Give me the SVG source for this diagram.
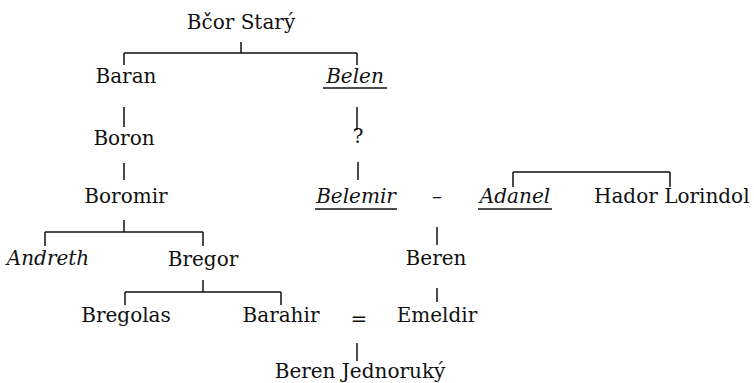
<svg xmlns="http://www.w3.org/2000/svg" width="754" height="383" viewBox="0 0 754 383">
<style>
text{font-family:"DejaVu Serif","Liberation Serif",serif;font-size:20px;fill:#111;text-anchor:middle}
.it{font-style:italic}
.ul{stroke:#111;stroke-width:1.3}
#connectors path{stroke:#111;stroke-width:1.5;fill:none}
</style>
<rect width="754" height="383" fill="#fff"/>
<g id="connectors">
<path d="M241,42V53M124,53H357M124,53V65M357,53V65"/>
<path d="M124,107V127M357,107V130M358,162V180M124,163V180"/>
<path d="M124,220V232M45,232H203M45,232V246M203,232V246"/>
<path d="M513,172H670M513,172V187M670,172V187"/>
<path d="M437,227V245M437,288V302"/>
<path d="M203,280V292M125,292H281M125,292V305M281,292V305"/>
<path d="M357,343V361"/>
</g>
<g id="bcor"><text x="241" y="29">Bčor Starý</text></g>
<g id="baran"><text x="126" y="83">Baran</text></g>
<g id="belen"><text class="it" x="355" y="83">Belen</text><line class="ul" x1="323" y1="88" x2="387" y2="88"/></g>
<g id="boron"><text x="124" y="145">Boron</text></g>
<g id="unknown"><text x="358" y="143">?</text></g>
<g id="boromir"><text x="126" y="203">Boromir</text></g>
<g id="belemir"><text class="it" x="356" y="203">Belemir</text><line class="ul" x1="315" y1="209" x2="397" y2="209"/></g>
<g id="marriage1"><text x="437" y="203">–</text></g>
<g id="adanel"><text class="it" x="515" y="203">Adanel</text><line class="ul" x1="478" y1="209" x2="552" y2="209"/></g>
<g id="hador"><text x="594" y="203" style="text-anchor:start">Hador Lorindol</text></g>
<g id="andreth"><text class="it" x="48" y="265">Andreth</text></g>
<g id="bregor"><text x="203" y="266">Bregor</text></g>
<g id="beren1"><text x="436" y="265">Beren</text></g>
<g id="bregolas"><text x="126" y="322">Bregolas</text></g>
<g id="barahir"><text x="281" y="322">Barahir</text></g>
<g id="marriage2"><text x="359" y="326">=</text></g>
<g id="emeldir"><text x="437" y="322">Emeldir</text></g>
<g id="beren2"><text x="360" y="378">Beren Jednoruký</text></g>
</svg>
